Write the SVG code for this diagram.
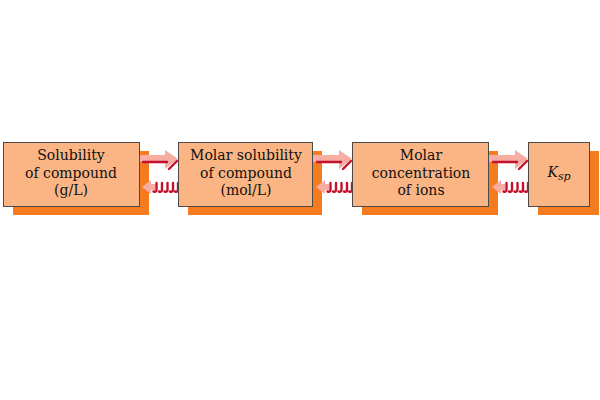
<svg xmlns="http://www.w3.org/2000/svg" width="600" height="400" viewBox="0 0 600 400">
<style>
.shadow{fill:#F47B20}
.box{fill:#FBB584;stroke:#4a4a4a;stroke-width:1}
.lbl{font-family:"DejaVu Serif","Liberation Serif",serif;font-size:14px;fill:#111;text-anchor:middle}
.pink{fill:#F8ADA2}
.red{fill:none;stroke:#C4122E;stroke-width:2.4;stroke-linecap:round}
</style>
<defs>
<g id="pair">
<rect class="pink" x="0" y="155" width="28" height="7"/>
<polygon class="pink" points="26,150 39,159 26,169"/>
<path class="red" d="M4 162 H28 M30 169 L38 161"/>
<polygon class="pink" points="3,187 12,180 12,194"/>
<rect class="pink" x="11" y="184" width="5" height="6"/>
<path class="red" d="M17.5 183 V189.5 Q17.5 192.5 14.5 191.5 M23 183 V189.5 Q23 192.5 20 191.5 M28.5 183 V189.5 Q28.5 192.5 25.5 191.5 M34 183 V189.5 Q34 192.5 31 191.5 M39 183 V189.5 Q39 192.5 36 191.5"/>
</g>
</defs>
<g id="shadows">
<rect class="shadow" x="13" y="151" width="136" height="64"/>
<rect class="shadow" x="188" y="151" width="134" height="64"/>
<rect class="shadow" x="362" y="151" width="136" height="64"/>
<rect class="shadow" x="538" y="151" width="61" height="64"/>
</g>
<g id="connectors">
<use href="#pair" x="139"/>
<use href="#pair" x="313"/>
<use href="#pair" x="489"/>
</g>
<g id="node1">
<rect class="box" x="3.5" y="142.5" width="136" height="64"/>
<text class="lbl" x="71" y="160">Solubility</text>
<text class="lbl" x="71" y="177.5">of compound</text>
<text class="lbl" x="71" y="195">(g/L)</text>
</g>
<g id="node2">
<rect class="box" x="178.5" y="142.5" width="134" height="64"/>
<text class="lbl" x="246" y="160">Molar solubility</text>
<text class="lbl" x="246" y="177.5">of compound</text>
<text class="lbl" x="246" y="195">(mol/L)</text>
</g>
<g id="node3">
<rect class="box" x="352.5" y="142.5" width="136" height="64"/>
<text class="lbl" x="421" y="160">Molar</text>
<text class="lbl" x="421" y="177.5">concentration</text>
<text class="lbl" x="421" y="195">of ions</text>
</g>
<g id="node4">
<rect class="box" x="528.5" y="142.5" width="61" height="64"/>
<text class="lbl" x="559" y="177" font-style="italic">K<tspan font-size="11" dy="3">sp</tspan></text>
</g>
</svg>
